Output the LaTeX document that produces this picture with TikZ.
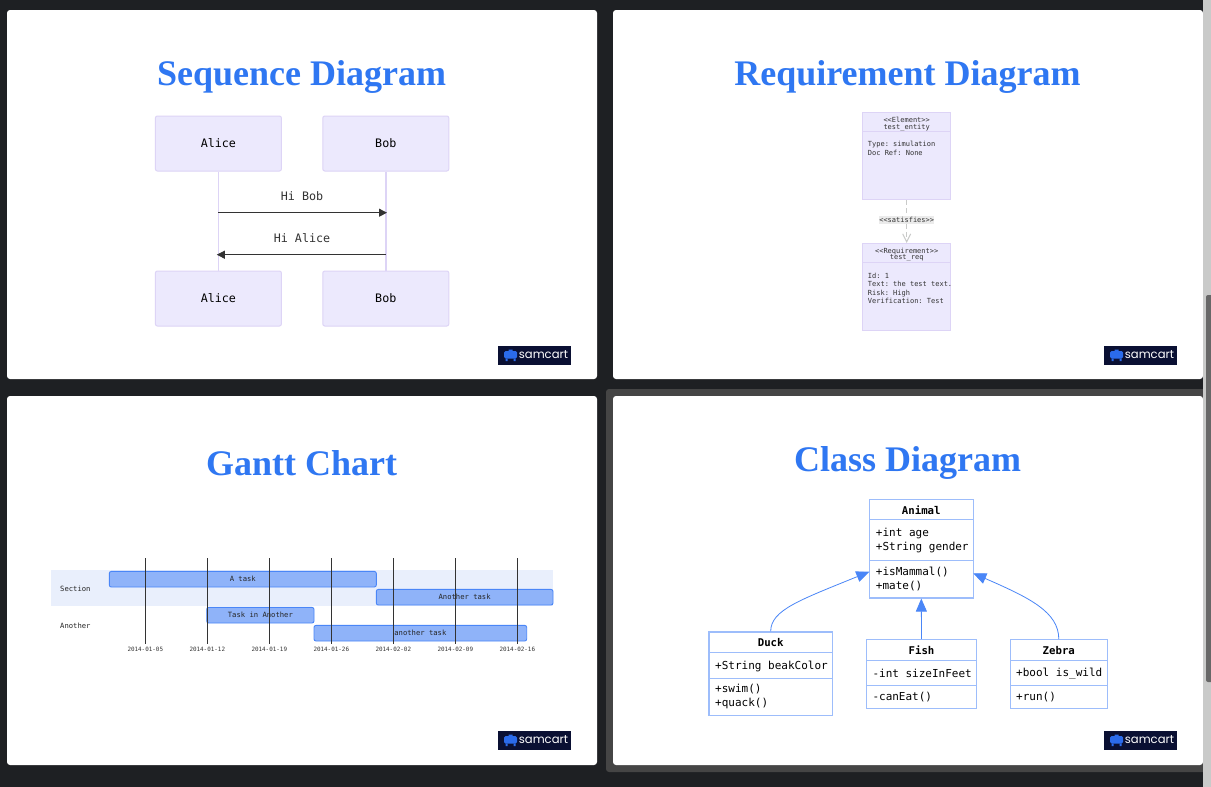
\documentclass[tikz,border=0pt]{standalone}
\usepackage{fontspec}
\usepackage{xcolor}
\usetikzlibrary{calc,arrows.meta,positioning}
\setmainfont{Liberation Serif}
\setmonofont{DejaVu Sans Mono}
\newfontfamily\logofont{Poppins}
\definecolor{pagec}{HTML}{1E2023}
\definecolor{selc}{HTML}{454545}
\definecolor{trackc}{HTML}{C9CAC9}
\definecolor{thumbc}{HTML}{676767}
\definecolor{titlec}{HTML}{2F77F2}
\definecolor{actc}{HTML}{ECE9FD}
\definecolor{actl}{HTML}{DDD4F6}
\definecolor{msgc}{HTML}{333333}
\definecolor{bandc}{HTML}{E9EFFC}
\definecolor{barc}{HTML}{8FB3F9}
\definecolor{mainc}{HTML}{4A86F7}
\definecolor{clsl}{HTML}{9DBDFB}
\definecolor{logoc}{HTML}{0A1033}
\definecolor{logob}{HTML}{2B6BEA}
\tikzset{
  ttl/.style={font=\fontsize{36}{36}\selectfont\bfseries,text=titlec},
  act/.style={draw=actl,fill=actc,line width=1pt,rounded corners=2pt,minimum width=126,minimum height=55,inner sep=0pt,font=\fontsize{11.7}{14}\ttfamily},
  life/.style={draw=actl,line width=1.5pt},
  msg/.style={-{Triangle[length=8,width=8]},msgc,line width=0.9pt},
  msgt/.style={font=\fontsize{11.7}{14}\ttfamily,text=msgc},
  reqb/.style={draw=actl,fill=actc,line width=0.6pt,inner sep=0pt,minimum width=88},
  reqt/.style={font=\fontsize{7}{8.6}\ttfamily,align=left,anchor=west,inner sep=0pt,text=msgc},
  reqh/.style={font=\fontsize{7}{6.4}\ttfamily,align=center,inner sep=0pt,text=msgc},
  sat/.style={draw=trackc,line width=1pt,dashed,dash pattern=on 5pt off 3pt,-{Straight Barb[length=8,width=8]}},
  bar/.style={draw=mainc,fill=barc,line width=0.9pt,rounded corners=2pt,inner sep=0pt,minimum height=15.6,font=\fontsize{7.2}{8}\ttfamily,text=black!85},
  gtxt/.style={font=\fontsize{7.2}{8}\ttfamily,anchor=west,inner sep=0pt,text=black!85},
  dtxt/.style={font=\fontsize{5.9}{7}\ttfamily,inner sep=0pt,text=msgc},
  cls/.style={draw=clsl,fill=white,line width=1.2pt,inner sep=0pt},
  clsh/.style={font=\fontsize{10.7}{13}\ttfamily\bfseries,inner sep=0pt},
  clst/.style={font=\fontsize{11}{14.6}\ttfamily,align=left,anchor=west,inner sep=0pt},
  inh/.style={-{Triangle[length=13,width=11]},mainc,line width=0.8pt},
  logot/.style={font=\fontsize{11.6}{12}\logofont,text=white,inner sep=0pt}
}

\begin{document}
\begin{tikzpicture}[x=1pt,y=-1pt]
\useasboundingbox (0,0) rectangle (1211,787);
\fill[pagec] (0,0) rectangle (1211,787);
\fill[selc,rounded corners=3pt] (606,389) rectangle (1208,772);
\foreach \cx/\cy/\ly in {7/10/346,613/10/346,7/396/731,613/396/731}{
 \fill[white,rounded corners=3pt] (\cx,\cy) rectangle ++(590,369);
 \fill[logoc] (\cx+491,\ly) rectangle ++(73,19);
 \fill[logob,rounded corners=1.5pt] (\cx+497,\ly+5) rectangle ++(13,7.5);
 \fill[logob] (\cx+498.5,\ly+12.5) rectangle ++(2,2.5) (\cx+506.5,\ly+12.5) rectangle ++(2,2.5) (\cx+501.5,\ly+3.5) rectangle ++(4,2);
 \node[logot] (logo\cx\cy) at (\cx+536.5,\ly+8.5) {samcart};}
\fill[trackc] (1203,0) rectangle (1211,787);
\fill[thumbc,rounded corners=2pt] (1206,295) rectangle (1213,682);
\node[ttl] (tseq) at (301.5,77) {Sequence Diagram};
\node[ttl] (treq) at (907.5,77) {Requirement Diagram};
\node[ttl] (tgnt) at (301.5,463) {Gantt Chart};
\node[ttl] (tcls) at (907.5,463) {Class Diagram};

% sequence
\node[act] (alicet) at (218.4,143.5) {Alice};
\node[act] (bobt) at (385.8,143.5) {Bob};
\node[act] (aliceb) at (218.4,298.5) {Alice};
\node[act] (bobb) at (385.8,298.5) {Bob};
\draw[life] (alicet) -- (aliceb);
\draw[life] (bobt) -- (bobb);
\coordinate (ma) at (218.4,212.7);
\coordinate (mb) at (387,212.7);
\coordinate (mc) at (385.8,254.7);
\coordinate (md) at (216.8,254.7);
\draw[msg] (ma) -- (mb);
\draw[msg] (mc) -- (md);
\node[msgt] (hibob) at (302,196.5) {Hi Bob};
\node[msgt] (hialice) at (302,238.5) {Hi Alice};

% requirement
\node[reqb,minimum height=87.4] (entity) at (906.7,156) {};
\node[reqb,minimum height=87.4] (req) at (906.7,287) {};
\draw[actl,line width=0.6pt] (862.7,131.7) -- ++(88,0) (862.7,262.7) -- ++(88,0);
\node[reqh] (enth) at (906.7,124) {<{}<Element>{}>\\test\_entity};
\node[reqt] (entt) at (867.7,148.5) {Type: simulation\\Doc Ref: None};
\node[reqh] (reqh) at (906.7,254.5) {<{}<Requirement>{}>\\test\_req};
\node[reqt] (reqx) at (867.7,288.3) {Id: 1\\Text: the test text.\\Risk: High\\Verification: Test};
\draw[sat] (entity) -- (req) node[pos=0.47,fill=black!8,inner sep=0pt,minimum width=55,minimum height=8.4,font=\fontsize{7}{8}\ttfamily,text=msgc] (satl) {<{}<satisfies>{}>};

% gantt
\fill[bandc] (51,570) rectangle (553,605.7);
\foreach \nm/\xa/\xb/\yy/\txt in {ba/109.3/376.3/579.2/A task,bb/376.3/553/597.2/Another task,bc/206.7/314/615.2/Task in Another,bd/314/526.7/633.2/another task}{
 \pgfmathsetmacro{\xm}{(\xa+\xb)/2}
 \pgfmathsetmacro{\ww}{\xb-\xa}
 \node[bar,minimum width=\ww] (\nm) at (\xm,\yy) {\txt};}
\node[gtxt] (gsec) at (60,589.3) {Section};
\node[gtxt] (gano) at (60,626.3) {Another};
\foreach \gx/\gd in {145.3/01-05,207.3/01-12,269.3/01-19,331.3/01-26,393.3/02-02,455.3/02-09,517.3/02-16}{
 \draw[msgc,line width=0.8pt] (\gx,558.3) -- (\gx,644);
 \node[dtxt] (d\gd) at (\gx,649.8) {2014-\gd};}

% class
\node[cls,minimum width=104,minimum height=98.7] (animal) at (921.3,548.6) {};
\node[cls,minimum width=123.3,minimum height=83.7] (duck) at (770.7,673.8) {};
\node[cls,minimum width=110.4,minimum height=68.6] (fish) at (921.5,674) {};
\node[cls,minimum width=97,minimum height=68.6] (zebra) at (1058.8,674) {};
\foreach \xx/\ll/\yy in {869.3/104/519.7,869.3/104/560.7,709/123.3/652.7,709/123.3/678.3,866.3/110.4/660,866.3/110.4/685.7,1010.3/97/660,1010.3/97/685.7}{
 \draw[clsl,line width=1pt] (\xx,\yy) -- ++(\ll,0);}
\node[clsh] (animalh) at (921.3,510) {Animal};
\node[clsh] (duckh) at (770.7,643) {Duck};
\node[clsh] (fishh) at (921.5,650.3) {Fish};
\node[clsh] (zebrah) at (1058.8,650.3) {Zebra};
\node[clst] (animalf) at (875.7,540.6) {+int age\\+String gender};
\node[clst] (animalm) at (875.7,579.2) {+isMammal()\\+mate()};
\node[clst] (duckf) at (715,666.3) {+String beakColor};
\node[clst] (duckm) at (715,696.6) {+swim()\\+quack()};
\node[clst] (fishf) at (872.3,673.3) {-int sizeInFeet};
\node[clst] (fishm) at (872.3,697.3) {-canEat()};
\node[clst] (zebraf) at (1016,673.3) {+bool is\_wild};
\node[clst] (zebram) at (1016,697.3) {+run()};
\coordinate (al) at (869.3,571.7);
\coordinate (ar) at (973.3,573.3);
\draw[inh] (duck.north) .. controls (770.7,610) and (800,600) .. (al);
\draw[inh] (fish.north) -- (animal.south);
\draw[inh] (zebra.north) .. controls (1058.7,612) and (1030,598) .. (ar);
\end{tikzpicture}
\end{document}
